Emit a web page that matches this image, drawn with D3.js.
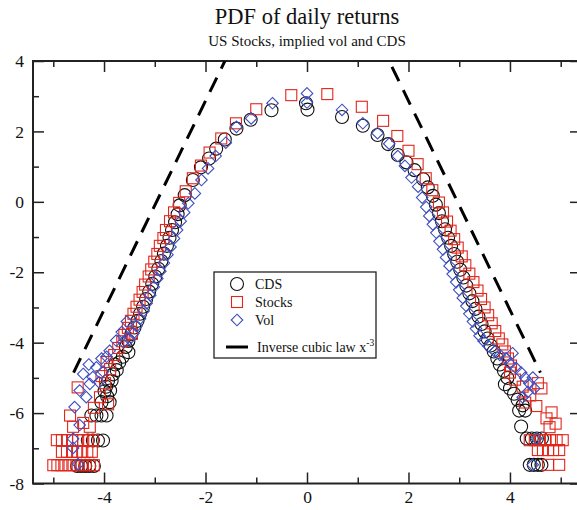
<!DOCTYPE html>
<html>
<head>
<meta charset="utf-8">
<script src="https://cdn.jsdelivr.net/npm/d3@7/dist/d3.min.js"></script>
<style>
  html, body { margin: 0; padding: 0; background: #fff; }
  svg { display: block; }
  text { font-family: "Liberation Serif", "DejaVu Serif", serif; fill: #111; }
</style>
</head>
<body>
<svg id="chart" width="577" height="510"></svg>
<script>
// ---- data: log PDF of standardized daily returns ----
const cdsPoints = [
  [-0.02, 2.80], [0.01, 2.62],
  [-0.70, 2.60], [-1.11, 2.33], [-1.39, 2.08], [-1.62, 1.77], [-1.79, 1.51], [-1.93, 1.23], [-2.09, 0.98],
  [-2.25, 0.62], [-2.41, 0.19], [-2.51, -0.10], [-2.55, -0.35], [-2.60, -0.58], [-2.66, -0.80], [-2.71, -1.02],
  [-2.76, -1.25], [-2.82, -1.47], [-2.87, -1.68], [-2.93, -1.90], [-2.99, -2.12], [-3.05, -2.33], [-3.11, -2.55],
  [-3.17, -2.76], [-3.23, -2.98], [-3.29, -3.18], [-3.34, -3.38], [-3.40, -3.57], [-3.46, -3.76], [-3.52, -3.95],
  [-3.57, -4.12], [-3.52, -4.27], [-3.63, -4.40], [-3.70, -4.56], [-3.78, -4.62], [-3.75, -4.78], [-3.82, -4.90],
  [-3.92, -5.08], [-3.85, -5.08], [-3.96, -5.25], [-3.88, -5.36], [-3.99, -5.38], [-3.94, -5.52], [-4.05, -5.69],
  [-3.89, -5.69], [-4.25, -6.07], [-4.15, -6.07], [-4.05, -6.07], [-3.95, -6.07], [-4.32, -6.78], [-4.22, -6.78],
  [-4.12, -6.78], [-4.02, -6.78], [-4.53, -7.50], [-4.45, -7.50], [-4.37, -7.50], [-4.29, -7.50], [-4.20, -7.50],
  [0.69, 2.41], [1.10, 2.16], [1.39, 1.90], [1.60, 1.64], [1.79, 1.33], [1.96, 1.12], [2.12, 0.90], [2.29, 0.64],
  [2.38, 0.41], [2.48, 0.17], [2.54, -0.08], [2.60, -0.32], [2.66, -0.55], [2.72, -0.78], [2.78, -1.02], [2.84, -1.25],
  [2.90, -1.48], [2.96, -1.70], [3.02, -1.93], [3.08, -2.15], [3.14, -2.38], [3.20, -2.60], [3.26, -2.82], [3.32, -3.04],
  [3.38, -3.26], [3.44, -3.47], [3.50, -3.68], [3.56, -3.88], [3.62, -4.08], [3.68, -4.25], [3.75, -4.45], [3.80, -4.62],
  [3.88, -4.80], [3.95, -5.00], [3.90, -5.18], [4.00, -5.30], [4.08, -5.45], [4.15, -5.62], [4.25, -5.78], [4.18, -5.93],
  [4.30, -5.93], [4.22, -6.38], [4.33, -6.72], [4.43, -6.72], [4.53, -6.72], [4.63, -6.72], [4.39, -7.47], [4.47, -7.47],
  [4.55, -7.47], [4.62, -7.47]
];

const stockPoints = [
  [-0.31, 3.03], [-1.00, 2.63], [-1.40, 2.23], [-1.69, 1.80], [-1.92, 1.40], [-2.09, 1.03], [-2.25, 0.67], [-2.39, 0.30],
  [-2.52, -0.03], [-2.62, -0.30], [-2.70, -0.55], [-2.78, -0.80], [-2.83, -1.03], [-2.90, -1.25], [-2.95, -1.48],
  [-3.01, -1.70], [-3.07, -1.92], [-3.12, -2.12], [-3.19, -2.35], [-3.24, -2.56], [-3.30, -2.78], [-3.36, -2.98],
  [-3.42, -3.18], [-3.47, -3.38], [-3.53, -3.58], [-3.60, -3.78], [-3.64, -3.96], [-3.45, -3.75], [-3.72, -4.15],
  [-3.80, -4.35], [-3.95, -4.55], [-3.88, -4.75], [-4.05, -4.95], [-3.98, -5.15], [-4.52, -5.27], [-4.08, -5.55],
  [-3.92, -5.75], [-4.20, -5.85], [-4.67, -6.07], [-4.61, -6.39], [-4.41, -6.28], [-4.28, -6.39],
  [-4.93, -6.77], [-4.83, -6.77], [-4.73, -6.77], [-4.63, -6.77], [-4.51, -6.77], [-4.41, -6.77], [-4.32, -6.77], [-4.22, -6.77],
  [-4.83, -7.10], [-4.73, -7.10], [-4.63, -7.10], [-4.53, -7.10], [-4.43, -7.10], [-4.33, -7.10], [-4.24, -7.10],
  [-5.00, -7.48], [-4.92, -7.48], [-4.84, -7.48], [-4.76, -7.48], [-4.68, -7.48], [-4.60, -7.48], [-4.52, -7.48],
  [-4.44, -7.48], [-4.36, -7.48], [-4.28, -7.48], [-4.20, -7.48],
  [0.40, 3.06], [1.08, 2.70], [1.50, 2.30], [1.78, 1.87], [2.00, 1.45], [2.18, 1.07], [2.34, 0.67], [2.47, 0.33],
  [2.60, -0.02], [2.68, -0.30], [2.76, -0.56], [2.83, -0.82], [2.90, -1.06], [2.97, -1.30], [3.05, -1.55], [3.12, -1.80],
  [3.20, -2.04], [3.28, -2.28], [3.36, -2.52], [3.43, -2.76], [3.50, -3.00], [3.57, -3.22], [3.64, -3.45], [3.71, -3.67],
  [3.78, -3.88], [3.85, -4.05], [3.90, -4.25], [3.96, -4.45], [4.02, -4.65], [4.00, -4.85], [4.10, -5.05], [4.25, -5.25],
  [4.55, -5.15], [4.62, -5.30], [4.40, -5.50], [4.30, -5.70], [4.52, -5.80], [4.82, -5.98], [4.72, -6.15], [4.90, -6.30],
  [4.78, -6.40], [4.39, -6.77], [4.49, -6.77], [4.59, -6.77], [4.69, -6.77], [4.79, -6.77], [4.92, -6.77], [5.04, -6.77],
  [4.55, -7.05], [4.65, -7.05], [4.75, -7.05], [4.85, -7.05], [4.97, -7.05], [4.75, -7.47], [4.97, -7.47]
];

const volPoints = [
  [0.00, 3.08], [0.00, 2.82],
  [-0.68, 2.80], [-1.10, 2.37], [-1.39, 2.13], [-1.60, 1.68], [-1.80, 1.30], [-1.95, 0.95], [-2.08, 0.62], [-2.21, 0.24],
  [-2.34, -0.04], [-2.42, -0.30], [-2.49, -0.55], [-2.56, -0.80], [-2.62, -1.04], [-2.69, -1.28], [-2.75, -1.50],
  [-2.82, -1.74], [-2.89, -1.97], [-2.95, -2.18], [-3.02, -2.42], [-3.09, -2.65], [-3.16, -2.88], [-3.22, -3.10],
  [-3.29, -3.32], [-3.36, -3.53], [-3.42, -3.73], [-3.50, -3.90], [-3.55, -3.40], [-3.65, -3.70], [-3.62, -3.98],
  [-3.76, -3.94], [-3.89, -4.23], [-3.95, -4.40], [-4.05, -4.45], [-4.15, -4.70], [-4.02, -4.82], [-4.30, -4.62],
  [-4.41, -4.89], [-4.22, -4.98], [-4.28, -5.17], [-4.10, -5.12], [-4.48, -5.36], [-4.35, -5.55], [-4.58, -5.83],
  [-4.48, -6.34], [-4.61, -6.73], [-4.61, -6.99], [-4.51, -7.45],
  [0.69, 2.61], [1.10, 2.23], [1.39, 1.95], [1.62, 1.65], [1.79, 1.30], [1.93, 1.02], [2.06, 0.69], [2.19, 0.43],
  [2.27, 0.12], [2.35, -0.15], [2.41, -0.40], [2.48, -0.64], [2.55, -0.88], [2.61, -1.12], [2.68, -1.35], [2.74, -1.58],
  [2.81, -1.82], [2.87, -2.05], [2.94, -2.28], [3.00, -2.50], [3.07, -2.73], [3.14, -2.96], [3.20, -3.18], [3.27, -3.40],
  [3.33, -3.60], [3.40, -3.80], [3.48, -3.95], [3.58, -4.10], [3.70, -4.25], [3.80, -4.35], [3.92, -4.45], [4.05, -4.30],
  [4.00, -4.60], [4.12, -4.72], [4.22, -4.85], [4.30, -5.00], [4.45, -4.99], [4.38, -5.15], [4.48, -5.30], [4.35, -5.40],
  [4.25, -5.55], [4.52, -6.72], [4.45, -7.47]
];

// Inverse cubic law reference lines (left and right wings)
const cubicLeftX = [-4.60, -1.45];
const cubicLeftY = [-4.85, 4.50];
const cubicRightX = [1.45, 4.60];
const cubicRightY = [4.50, -4.85];

const xTickLabels = [-4, -2, 0, 2, 4];
const xMinorTicks = [-5, -3, -1, 1, 3, 5];
const yTickLabels = [4, 2, 0, -2, -4, -6, -8];
const yMinorTicks = [3, 1, -1, -3, -5, -7];
const legendLabels = ["CDS", "Stocks", "Vol", "Inverse cubic law x"];

const titleText = "PDF of daily returns";
const subtitleText = "US Stocks, implied vol and CDS";

// ---- layout ----
const svg = d3.select("#chart");
const plot = { left: 33, right: 581, top: 61, bottom: 483.5 };

const x = d3.scaleLinear().domain([-5.4, 5.4]).range([plot.left, plot.right]);
const y = d3.scaleLinear().domain([-8, 4]).range([plot.bottom, plot.top]);

const axisColor = "#222";
const cdsColor = "#111";
const stockColor = "#e2261c";
const volColor = "#3d4fc0";
const plainNumber = d => String(d);   // ASCII hyphen for negatives

svg.append("defs").append("clipPath").attr("id", "plotClip")
  .append("rect")
  .attr("x", plot.left).attr("y", plot.top)
  .attr("width", plot.right - plot.left).attr("height", plot.bottom - plot.top);

// titles
svg.append("text")
  .attr("x", x(0)).attr("y", 24)
  .attr("text-anchor", "middle")
  .style("font-size", "22.5px")
  .text(titleText);
svg.append("text")
  .attr("x", x(0)).attr("y", 46)
  .attr("text-anchor", "middle")
  .style("font-size", "15px")
  .text(subtitleText);

// ---- axes (ticks pointing inward on all sides) ----
function styleAxis(g) {
  g.select(".domain").remove();
  g.selectAll(".tick line").attr("stroke", axisColor).attr("stroke-width", 1.5);
  g.selectAll(".tick text")
    .style("font-family", "'Liberation Serif', serif")
    .style("font-size", "17.5px")
    .attr("fill", "#111");
}

const gx = svg.append("g").attr("transform", `translate(0,${plot.bottom})`)
  .call(d3.axisBottom(x).tickValues(xTickLabels).tickSizeInner(-11).tickSizeOuter(0).tickPadding(7)
    .tickFormat(plainNumber));
styleAxis(gx);

svg.append("g").attr("transform", `translate(0,${plot.bottom})`)
  .call(d3.axisBottom(x).tickValues(xMinorTicks).tickSizeInner(-6).tickSizeOuter(0).tickFormat(""))
  .call(styleAxis);

svg.append("g").attr("transform", `translate(0,${plot.top})`)
  .call(d3.axisTop(x).tickValues(xTickLabels).tickSizeInner(-11).tickSizeOuter(0).tickFormat(""))
  .call(styleAxis);
svg.append("g").attr("transform", `translate(0,${plot.top})`)
  .call(d3.axisTop(x).tickValues(xMinorTicks).tickSizeInner(-6).tickSizeOuter(0).tickFormat(""))
  .call(styleAxis);

const gy = svg.append("g").attr("transform", `translate(${plot.left},0)`)
  .call(d3.axisLeft(y).tickValues(yTickLabels).tickSizeInner(-11).tickSizeOuter(0).tickPadding(9)
    .tickFormat(plainNumber));
styleAxis(gy);
svg.append("g").attr("transform", `translate(${plot.left},0)`)
  .call(d3.axisLeft(y).tickValues(yMinorTicks).tickSizeInner(-6).tickSizeOuter(0).tickFormat(""))
  .call(styleAxis);

svg.append("g").attr("transform", `translate(${plot.right},0)`)
  .call(d3.axisRight(y).tickValues(yTickLabels).tickSizeInner(-11).tickSizeOuter(0).tickFormat(""))
  .call(styleAxis);

// frame
svg.append("rect")
  .attr("x", plot.left).attr("y", plot.top)
  .attr("width", plot.right - plot.left).attr("height", plot.bottom - plot.top)
  .attr("fill", "none").attr("stroke", axisColor).attr("stroke-width", 2);

// ---- markers ----
const marks = svg.append("g").attr("clip-path", "url(#plotClip)");

marks.append("g").selectAll("circle").data(cdsPoints).join("circle")
  .attr("cx", d => x(d[0])).attr("cy", d => y(d[1])).attr("r", 6.5)
  .attr("fill", "none").attr("stroke", cdsColor).attr("stroke-width", 1.1);

marks.append("g").selectAll("rect").data(stockPoints).join("rect")
  .attr("x", d => x(d[0]) - 5.5).attr("y", d => y(d[1]) - 5.5)
  .attr("width", 11).attr("height", 11)
  .attr("fill", "none").attr("stroke", stockColor).attr("stroke-width", 1.1);

const diamond = d3.symbol().type(d3.symbolDiamond2).size(85);
marks.append("g").selectAll("path").data(volPoints).join("path")
  .attr("transform", d => `translate(${x(d[0])},${y(d[1])})`)
  .attr("d", diamond)
  .attr("fill", "none").attr("stroke", volColor).attr("stroke-width", 1.1);

// inverse cubic law
const lawLine = d3.line().x(d => x(d[0])).y(d => y(d[1]));
[[cubicLeftX, cubicLeftY], [cubicRightX, cubicRightY]].forEach(([xs, ys]) => {
  const pts = xs.map((v, i) => [v, ys[i]]);
  marks.append("path")
    .attr("d", lawLine(pts))
    .attr("fill", "none").attr("stroke", "#000").attr("stroke-width", 3)
    .attr("stroke-dasharray", "16,10");
});

// ---- legend ----
const lg = svg.append("g").attr("transform", "translate(214,272)");
lg.append("rect").attr("width", 162).attr("height", 86)
  .attr("fill", "#fff").attr("stroke", axisColor).attr("stroke-width", 1.3);

const rowY = [12, 30, 48, 75];
lg.append("circle").attr("cx", 23).attr("cy", rowY[0]).attr("r", 6.5)
  .attr("fill", "none").attr("stroke", cdsColor).attr("stroke-width", 1.1);
lg.append("rect").attr("x", 17.5).attr("y", rowY[1] - 5.5).attr("width", 11).attr("height", 11)
  .attr("fill", "none").attr("stroke", stockColor).attr("stroke-width", 1.1);
lg.append("path").attr("transform", `translate(23,${rowY[2]})`).attr("d", diamond)
  .attr("fill", "none").attr("stroke", volColor).attr("stroke-width", 1.1);
lg.append("line").attr("x1", 12).attr("x2", 34).attr("y1", rowY[3]).attr("y2", rowY[3])
  .attr("stroke", "#000").attr("stroke-width", 3);

legendLabels.forEach((t, i) => {
  const tx = lg.append("text")
    .attr("x", i === 3 ? 43 : 41).attr("y", rowY[i] + 5)
    .style("font-size", "14px")
    .text(t);
  if (i === 3) {
    tx.append("tspan").attr("dy", -6).style("font-size", "9.5px").text("-3");
  }
});
</script>
</body>
</html>
